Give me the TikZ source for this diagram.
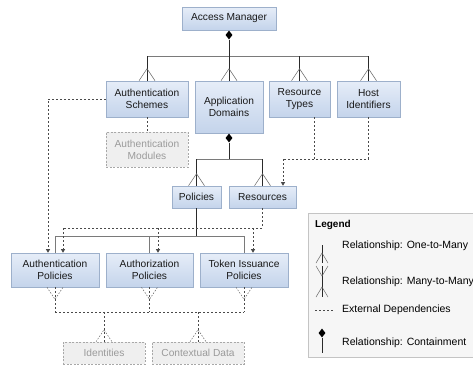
\documentclass[tikz,border=0pt]{standalone}
\usepackage{fontspec}
\setmainfont{Liberation Sans}
\usetikzlibrary{arrows.meta,shapes.geometric,calc}
\definecolor{boxtop}{HTML}{E6EDF8}
\definecolor{boxbot}{HTML}{C4D4EB}
\definecolor{boxline}{HTML}{9DB0CB}
\definecolor{extfill}{HTML}{EFEFEF}
\definecolor{extline}{HTML}{A8A8A8}
\definecolor{exttext}{HTML}{9A9A9A}
\definecolor{lnk}{HTML}{2A2A2A}
\definecolor{barc}{HTML}{7A7A7A}
\definecolor{footc}{HTML}{6A6A6A}
\definecolor{legfill}{HTML}{F6F6F6}
\definecolor{legline}{HTML}{C4C4C4}
\begin{document}
\begin{tikzpicture}[x=1pt,y=-1pt,
  txt/.style={font=\fontsize{10.2}{12}\selectfont},
  legtxt/.style={font=\fontsize{10.5}{12}\selectfont},
  bx/.style={txt, draw=boxline, line width=0.6pt, top color=boxtop, bottom color=boxbot,
             inner sep=0pt, align=center, text=black!90},
  ext/.style={txt, draw=extline, line width=0.6pt, dash pattern=on 2pt off 1.5pt, fill=extfill,
              inner sep=0pt, align=center, text=exttext},
  solidln/.style={draw=lnk, line width=0.8pt},
  barln/.style={draw=barc, line width=0.8pt},
  foot/.style={draw=footc, line width=0.5pt},
  footd/.style={draw=footc, line width=0.5pt, dash pattern=on 1.5pt off 1.5pt},
  dep/.style={draw=lnk!85, line width=0.6pt, dash pattern=on 2pt off 2pt},
  deparrow/.style={dep, -{Triangle[length=3.5pt,width=4pt]}},
  cont/.style={diamond, fill=black, draw=none, inner sep=0pt, minimum width=7pt, minimum height=9pt},
  crowup/.pic={\draw[foot] (-8,0) -- (0,-12) -- (8,0);},
  crowupd/.pic={\draw[footd] (-8,0) -- (0,-12) -- (8,0);},
  crowdnd/.pic={\draw[footd] (-8,0) -- (0,12) -- (8,0);},
]
\useasboundingbox[fill=white] (0,0) rectangle (473,364);

% ---------- nodes ----------
\node[bx, minimum width=94pt, minimum height=23pt] (am) at (229,18.5) {Access Manager};

\node[bx, minimum width=82pt, minimum height=36pt] (as) at (147,99) {Authentication\\Schemes};
\node[bx, minimum width=68pt, minimum height=52pt] (ad) at (229,107) {Application\\Domains};
\node[bx, minimum width=61pt, minimum height=36pt] (rt) at (299.5,99) {Resource\\Types};
\node[bx, minimum width=63pt, minimum height=36pt] (hi) at (368.5,99) {Host\\Identifiers};

\node[ext, minimum width=82pt, minimum height=35pt] (amod) at (147,149.5) {Authentication\\Modules};

\node[bx, minimum width=49pt, minimum height=22pt] (pol) at (196.5,197) {Policies};
\node[bx, minimum width=67pt, minimum height=22pt] (res) at (262.5,197) {Resources};

\node[bx, minimum width=88pt, minimum height=34pt] (ap) at (55,270) {Authentication\\Policies};
\node[bx, minimum width=87pt, minimum height=34pt] (az) at (149.5,270) {Authorization\\Policies};
\node[bx, minimum width=88pt, minimum height=34pt] (ti) at (244,270) {Token Issuance\\Policies};

\node[ext, minimum width=82pt, minimum height=22pt] (id) at (104,353) {Identities};
\node[ext, minimum width=92pt, minimum height=22pt] (cd) at (198,353) {Contextual Data};

% ---------- Access Manager containment ----------
\node[cont, anchor=north] (amd) at (am.south) {};
\coordinate (bar1) at (229,56);
\draw[barln] (as.north |- bar1) -- (hi.north |- bar1);
\draw[solidln] (amd.south) -- (bar1);
\foreach \n in {as,ad,rt,hi} {
  \draw[solidln] (\n.north |- bar1) -- (\n.north);
  \pic at (\n.north) {crowup};
}

% ---------- Application Domains containment ----------
\node[cont, anchor=north] (add) at (ad.south) {};
\coordinate (bar2) at (229,159);
\draw[barln] (pol.north |- bar2) -- (res.north |- bar2);
\draw[solidln] (add.south) -- (bar2);
\foreach \n in {pol,res} {
  \draw[solidln] (\n.north |- bar2) -- (\n.north);
  \pic at (\n.north) {crowup};
}

% ---------- dependencies into Resources ----------
\coordinate (rtd) at ($(rt.south)+(14.5,0)$);
\coordinate (rh) at (283,159);
\draw[dep] (rtd) -- (rtd |- rh);
\draw[dep] (hi.south) -- (hi.south |- rh) -- (rh);
\draw[deparrow] (rh) -- (rh |- res.north);

% ---------- Authentication Schemes dependencies ----------
\coordinate (asl) at (48,99);
\draw[deparrow] (as.west) -- (asl) -- (asl |- ap.north);
\draw[dep] (as.south) -- (amod.north);

% ---------- Policies ----------
\coordinate (bar3) at (196.5,236);
\draw[barln] (ap.north |- bar3) -- (ti.north |- bar3);
\draw[solidln] (pol.south) -- (bar3);
\foreach \n in {ap,az,ti} {
  \draw[barln] (\n.north |- bar3) -- (\n.north);
}

% ---------- Resources dependencies ----------
\coordinate (rd) at (262.5,228);
\coordinate (rdl) at (63,228);
\coordinate (rdz) at (158,228);
\coordinate (rdt) at (253,228);
\draw[dep] (res.south) -- (rd) -- (rdl);
\draw[deparrow] (rdl) -- (rdl |- ap.north);
\draw[deparrow] (rdz) -- (rdz |- az.north);
\draw[deparrow] (rdt) -- (rdt |- ti.north);

% ---------- external dependencies at the bottom ----------
\coordinate (bar4) at (55,312);
\draw[dep] (ap.south |- bar4) -- (ti.south |- bar4);
\foreach \n in {ap,az,ti} {
  \draw[dep] (\n.south) -- (\n.south |- bar4);
  \pic at (\n.south) {crowdnd};
}
\foreach \n in {id,cd} {
  \draw[dep] (\n.north |- bar4) -- (\n.north);
  \pic at (\n.north) {crowupd};
}

% ---------- legend ----------
\draw[draw=legline, fill=legfill, line width=0.6pt] (308,213) rectangle (490,357);
\node[legtxt, font=\fontsize{10}{12}\selectfont\bfseries, anchor=west, inner sep=0pt] (lgt) at (315,225) {Legend};

\draw[solidln, line width=0.7pt] (322,245) -- (322,263);
\draw[foot] (316,263) -- (322,253) -- (328,263);
\node[legtxt, anchor=west, inner sep=0pt] (l1) at (342,246) {Relationship: One-to-Many};

\draw[solidln, line width=0.7pt] (322,266) -- (322,297);
\draw[foot] (316,266) -- (322,276) -- (328,266);
\draw[foot] (316,297) -- (322,287) -- (328,297);
\node[legtxt, anchor=west, inner sep=0pt] (l2) at (342,282) {Relationship: Many-to-Many};

\draw[dep] (315,310) -- (333,310);
\node[legtxt, anchor=west, inner sep=0pt] (l3) at (342,310) {External Dependencies};

\node[cont] (ld) at (322,333) {};
\draw[solidln, line width=0.7pt] (ld.south) -- (322,353);
\node[legtxt, anchor=west, inner sep=0pt] (l4) at (342,343) {Relationship: Containment};
\end{tikzpicture}
\end{document}
